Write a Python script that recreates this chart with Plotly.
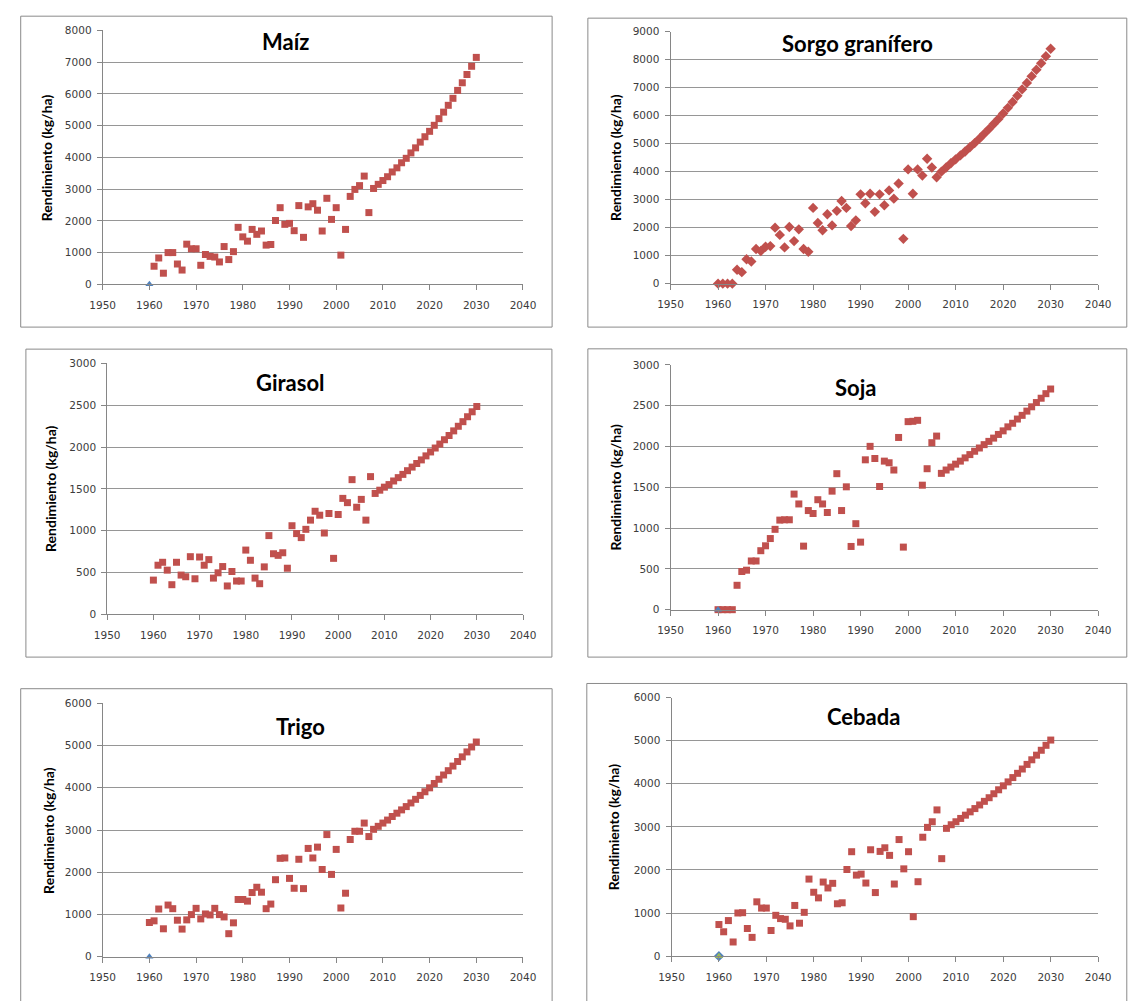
import plotly.graph_objects as go

W, H = 1131, 1001

# ---------------- data ----------------
years = list(range(1960, 2031))

maiz = [None,
        570, 830, 350, 1000, 1000, 640, 450, 1265, 1120, 1120,
        600, 940, 880, 860, 705, 1190, 780, 1030, 1795, 1495,
        1360, 1730, 1575, 1680, 1235, 1255, 2010, 2415, 1890, 1920,
        1690, 2480, 1480, 2440, 2540, 2335, 1680, 2710, 2045, 2415,
        920, 1730, 2770, 2990, 3110, 3410, 2260, 3020, 3150, 3270,
        3390, 3540, 3670, 3830, 3970, 4140, 4300, 4480, 4650, 4820,
        5010, 5220, 5425, 5640, 5860, 6110, 6350, 6610, 6870, 7150]

sorgo = [0,
         0, 0, 0, 495, 410, 870, 790, 1235, 1165, 1320,
         1340, 2000, 1740, 1295, 2025, 1520, 1940, 1235, 1140, 2705,
         2165, 1905, 2480, 2080, 2600, 2950, 2705, 2060, 2260, 3190,
         2870, 3210, 2565, 3190, 2800, 3330, 3035, 3575, 1600, 4080,
         3210, 4080, 3860, 4460, 4150, 3800, 4000, 4150, 4300, 4440,
         4580, 4720, 4870, 5020, 5180, 5350, 5520, 5700, 5880, 6080,
         6280, 6490, 6710, 6940, 7170, 7410, 7640, 7870, 8120, 8390]

girasol = [409,
           587, 622, 528, 354, 622, 469, 449, 689, 425, 685,
           587, 654, 433, 496, 571, 339, 512, 398, 398, 768,
           646, 433, 366, 567, 941, 724, 705, 736, 551, 1059,
           965, 917, 1016, 1126, 1232, 1185, 972, 1205, 669, 1193,
           1386, 1335, 1610, 1280, 1374, 1126, 1646, 1445, 1484, 1520,
           1551, 1594, 1634, 1673, 1717, 1760, 1803, 1846, 1894, 1941,
           1988, 2035, 2087, 2138, 2193, 2248, 2303, 2362, 2421, 2484]

soja = [0,
        0, 0, 0, 299, 468, 484, 597, 597, 723, 783,
        872, 985, 1098, 1102, 1102, 1417, 1296, 779, 1215, 1179,
        1348, 1296, 1191, 1453, 1667, 1215, 1506, 775, 1054, 828,
        1837, 2002, 1853, 1510, 1821, 1801, 1712, 2111, 767, 2305,
        2309, 2321, 1526, 1728, 2047, 2128, 1671, 1712, 1748, 1784,
        1821, 1861, 1901, 1942, 1982, 2023, 2063, 2103, 2148, 2192,
        2241, 2285, 2337, 2382, 2434, 2487, 2539, 2592, 2648, 2705]

trigo = [811,
         850, 1130, 662, 1224, 1138, 865, 655, 873, 998, 1146,
         896, 1013, 990, 1146, 998, 943, 546, 803, 1356, 1356,
         1317, 1520, 1645, 1528, 1138, 1247, 1824, 2330, 2338, 1855,
         1621, 2307, 1613, 2564, 2338, 2595, 2065, 2892, 1949, 2541,
         1154, 1504, 2775, 2970, 2970, 3164, 2845, 3016, 3087, 3164,
         3235, 3320, 3398, 3476, 3554, 3640, 3726, 3819, 3905, 3998,
         4100, 4201, 4302, 4404, 4513, 4622, 4731, 4848, 4965, 5082]

cebada = [734,
          566, 826, 329, 1002, 1009, 642, 436, 1261, 1116, 1116,
          596, 948, 872, 856, 703, 1177, 765, 1017, 1789, 1483,
          1353, 1720, 1583, 1690, 1216, 1239, 2011, 2424, 1881, 1904,
          1697, 2469, 1476, 2431, 2515, 2339, 1674, 2706, 2026, 2424,
          917, 1728, 2760, 2989, 3119, 3394, 2263, 2966, 3050, 3119,
          3196, 3272, 3349, 3425, 3509, 3593, 3677, 3769, 3861, 3953,
          4044, 4144, 4243, 4343, 4450, 4557, 4664, 4778, 4893, 5015]

# other (blue / green) series: only one point at 1960 with value 0
base_year = [1960]
base_value = [0]

x_ticks = [1950, 1960, 1970, 1980, 1990, 2000, 2010, 2020, 2030, 2040]
y_title = "Rendimiento (kg/ha)"

# ---------------- styles / layout ----------------
RED = "#C0504D"
BLUE = "#4F81BD"
GREEN = "#9BBB59"
GRID = "#969696"
AXIS = "#868686"
BORDER = "#8A8A8A"
TICKFONT = dict(family="DejaVu Sans", size=10.5, color="#3C3C3C")

panels = [
    dict(title="Maíz", y=maiz, sym="square", size=7, ymax=8000, dtick=1000,
         plot=(91.8, 24.7, 522.0, 281.7), box=(7.9, 10.3, 551.8, 325.0),
         tpos=(279, 36), ytx=34.6, extras=[("triangle-up", BLUE)]),
    dict(title="Sorgo granífero", y=sorgo, sym="diamond", size=8, ymax=9000, dtick=1000,
         plot=(673.0, 26.0, 1110.7, 281.0), box=(588.4, 12.3, 1140, 325.0),
         tpos=(864, 38), ytx=616.4, extras=[]),
    dict(title="Girasol", y=girasol, sym="square", size=7, ymax=3000, dtick=500,
         plot=(96.4, 361.7, 522.0, 615.7), box=(13.2, 347.3, 551.6, 659.0),
         tpos=(284, 381), ytx=39.0, extras=[]),
    dict(title="Soja", y=soja, sym="square", size=7, ymax=3000, dtick=500,
         plot=(673.0, 363.3, 1110.7, 611.0), box=(588.4, 347.0, 1140, 659.0),
         tpos=(862, 386), ytx=616.4, extras=[("triangle-up", BLUE)]),
    dict(title="Trigo", y=trigo, sym="square", size=7, ymax=6000, dtick=1000,
         plot=(91.8, 705.7, 522.0, 962.3), box=(7.9, 691.0, 551.8, 1010),
         tpos=(294, 729), ytx=35.7, extras=[("triangle-up", BLUE)]),
    dict(title="Cebada", y=cebada, sym="square", size=7, ymax=6000, dtick=1000,
         plot=(674.0, 700.0, 1110.7, 961.7), box=(587.3, 685.7, 1140, 1010),
         tpos=(871, 719), ytx=614.6, extras=[("diamond", BLUE), ("triangle-up", GREEN)]),
]


def px(x):
    return x / W


def py(y):
    return 1 - y / H


fig = go.Figure()
layout = dict(width=W, height=H, margin=dict(l=0, r=0, t=0, b=0),
              paper_bgcolor="white", plot_bgcolor="white", showlegend=False)
shapes = []
annotations = []

for i, p in enumerate(panels, start=1):
    xa = "x" if i == 1 else f"x{i}"
    ya = "y" if i == 1 else f"y{i}"
    x0, y0, x1, y1 = p["plot"]
    layout[f"xaxis{'' if i == 1 else i}"] = dict(
        domain=[px(x0), px(x1)], anchor=ya, range=[1950, 2040],
        tickmode="array", tickvals=x_ticks, ticktext=[str(v) for v in x_ticks],
        showgrid=False, zeroline=False, showline=True, linecolor=AXIS, linewidth=1,
        ticks="outside", ticklen=5, tickcolor=AXIS, tickwidth=1,
        tickfont=TICKFONT, ticklabelstandoff=6, fixedrange=True)
    layout[f"yaxis{'' if i == 1 else i}"] = dict(
        domain=[py(y1), py(y0)], anchor=xa, range=[0, p["ymax"]],
        tick0=0, dtick=p["dtick"], showgrid=True, gridcolor=GRID, gridwidth=1,
        zeroline=False, showline=True, linecolor=AXIS, linewidth=1,
        ticks="outside", ticklen=5, tickcolor=AXIS, tickwidth=1,
        tickfont=TICKFONT, ticklabelstandoff=3, fixedrange=True)

    fig.add_trace(go.Scatter(
        x=years, y=p["y"], mode="markers", xaxis=xa, yaxis=ya, cliponaxis=False,
        marker=dict(symbol=p["sym"], size=p["size"], color=RED, line=dict(width=0))))
    for sym, col in p["extras"]:
        fig.add_trace(go.Scatter(
            x=base_year, y=base_value, mode="markers", xaxis=xa, yaxis=ya, cliponaxis=False,
            marker=dict(symbol=sym, size=8 if sym == "diamond" else 7, color=col, line=dict(width=0))))

    bx0, by0, bx1, by1 = p["box"]
    shapes.append(dict(type="rect", xref="paper", yref="paper",
                       x0=px(bx0), x1=px(bx1), y0=py(by1), y1=py(by0),
                       line=dict(color=BORDER, width=1), fillcolor="rgba(0,0,0,0)", layer="below"))
    tx, ty = p["tpos"]
    annotations.append(dict(text=f"<b>{p['title']}</b>", xref="paper", yref="paper",
                            x=px(tx), y=py(ty), xanchor="center", yanchor="middle",
                            showarrow=False, font=dict(family="Lato", size=22, color="black")))
    annotations.append(dict(text=f"<b>{y_title}</b>", xref="paper", yref="paper",
                            x=px(p["ytx"]), y=py((y0 + y1) / 2), xanchor="center", yanchor="middle",
                            textangle=-90, showarrow=False,
                            font=dict(family="Lato", size=14, color="black")))

layout["shapes"] = shapes
layout["annotations"] = annotations
fig.update_layout(**layout)
fig.write_html("out.html")
